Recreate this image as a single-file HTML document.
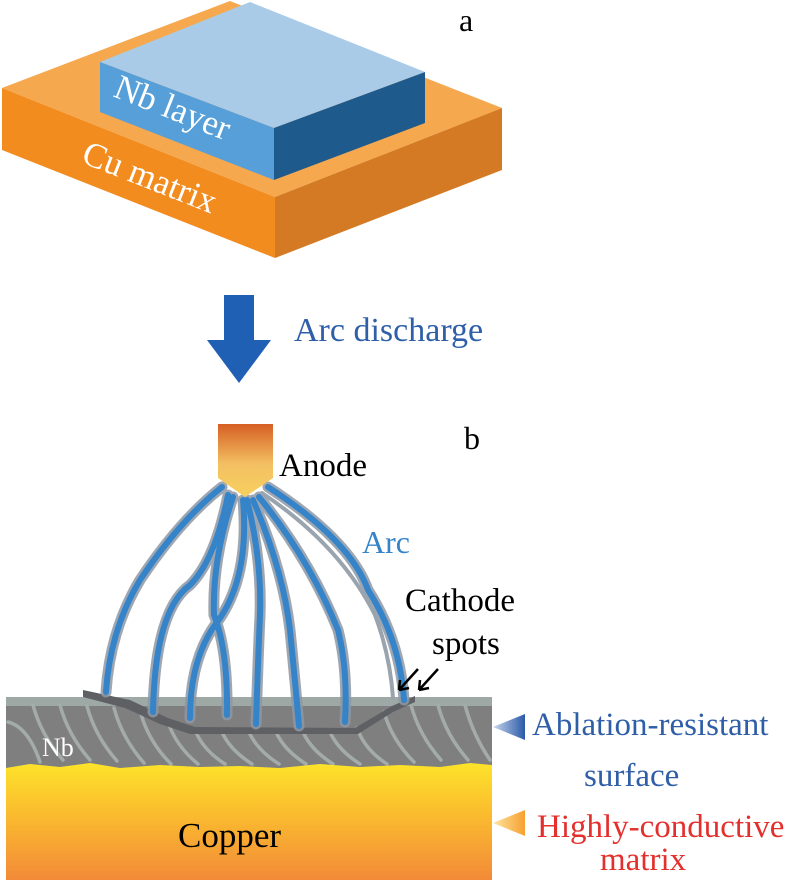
<!DOCTYPE html>
<html><head><meta charset="utf-8"><style>
html,body{margin:0;padding:0;background:#fff;}
svg{display:block;}
text{font-family:"Liberation Serif","DejaVu Serif",serif;}
</style></head><body>
<svg width="796" height="884" viewBox="0 0 796 884" xmlns="http://www.w3.org/2000/svg" font-family="Liberation Serif, serif">
<defs>
<linearGradient id="an" x1="0" y1="0" x2="0" y2="1">
<stop offset="0" stop-color="#d65f24"/><stop offset="0.55" stop-color="#f3c062"/><stop offset="1" stop-color="#f7d060"/></linearGradient>
<linearGradient id="cu" x1="0" y1="0" x2="0" y2="1">
<stop offset="0" stop-color="#fde32a"/><stop offset="0.4" stop-color="#fbbf2e"/><stop offset="1" stop-color="#f28a38"/></linearGradient>
<linearGradient id="tb" x1="1" y1="0" x2="0" y2="0">
<stop offset="0" stop-color="#2a5aa8"/><stop offset="1" stop-color="#c8d6ec"/></linearGradient>
<linearGradient id="to" x1="1" y1="0" x2="0" y2="0">
<stop offset="0" stop-color="#f7a030"/><stop offset="1" stop-color="#fde5a0"/></linearGradient>
</defs>
<polygon points="2,88 230,1 502,108 275,197" fill="#f6a84f"/>
<polygon points="2,88 275,197 275,258 2,150" fill="#f28c1f"/>
<polygon points="275,197 502,108 502,170 275,258" fill="#d47a24"/>
<polygon points="100,62 250,2 425,72 274,128" fill="#a9cbe8"/>
<polygon points="100,62 274,128 274,180 100,112" fill="#569fd8"/>
<polygon points="274,128 425,72 425,123 274,180" fill="#1f5a8c"/>
<text x="0" y="0" transform="translate(112,96) rotate(21.5)" font-size="35" fill="#fff">Nb layer</text>
<text x="0" y="0" transform="translate(80,162) rotate(21.5)" font-size="35" fill="#fff">Cu matrix</text>
<text x="459" y="31" font-size="32" fill="#000">a</text>
<polygon points="224,295 254,295 254,340 271,340 239,383 207,340 224,340" fill="#1f5fb4"/>
<text x="294" y="341" font-size="34" fill="#2e5fa8">Arc discharge</text>
<text x="464" y="449" font-size="32" fill="#000">b</text>
<!-- surface -->
<rect x="6" y="697" width="486" height="80" fill="#7f7f80"/>
<rect x="6" y="697" width="486" height="9" fill="#9ea8a4"/>
<g stroke="#a3aca8" stroke-width="3.5" fill="none" stroke-linecap="round">
<path d="M8,722 q20,5 32,40"/><path d="M33,705 q8,30 30,55"/><path d="M60,705 q8,30 30,55"/><path d="M87,706 q8,30 30,55"/><path d="M114,708 q8,30 30,55"/><path d="M141,714 q8,28 30,50"/><path d="M168,722 q8,24 30,42"/><path d="M195,730 q8,20 30,34"/><path d="M222,732 q8,18 30,32"/><path d="M249,732 q8,18 30,32"/><path d="M276,732 q8,18 30,32"/><path d="M303,732 q8,18 30,32"/><path d="M330,732 q8,18 30,32"/><path d="M357,728 q8,22 30,36"/><path d="M384,712 q8,28 30,50"/><path d="M411,705 q8,30 30,55"/><path d="M438,705 q8,30 30,55"/><path d="M465,705 q8,30 25,55"/>
</g>
<path d="M6,768 L30,764 L60,767 L90,763 L120,768 L160,765 L200,767 L240,766 L280,768 L320,764 L360,767 L400,765 L440,767 L470,763 L492,765 L492,880 L6,880 Z" fill="url(#cu)"/>
<path d="M83,690 L130,700 L168,718 L195,727 L355,728 L392,706 L415,696 L415,702 L393,712 L358,734 L190,734 L160,724 L125,708 L83,697 Z" fill="#5f6064"/>
<g fill="none" stroke-linecap="round" stroke-linejoin="round">
<g stroke="#8e98a4" stroke-width="11" opacity="0.85">
<path d="M222,487 Q180,520 140,580 Q110,630 106,692"/>
<path d="M228,495 Q215,560 190,585 Q155,610 153,712"/>
<path d="M233,497 Q212,560 214,615 Q228,650 227,715"/>
<path d="M243,500 Q250,580 215,625 Q190,660 190,718"/>
<path d="M247,500 Q262,560 260,615 Q258,660 256,724"/>
<path d="M253,500 Q283,570 290,630 Q295,680 299,726"/>
<path d="M259,497 Q310,560 338,630 Q348,670 345,722"/>
<path d="M268,487 Q350,540 368,590 Q400,640 404,700"/>
</g>
<path d="M262,493 Q340,545 375,615 Q390,655 393,698" stroke="#9aa4ae" stroke-width="4"/>
<g stroke="#3584c9" stroke-width="6">
<path d="M222,487 Q180,520 140,580 Q110,630 106,692"/>
<path d="M228,495 Q215,560 190,585 Q155,610 153,712"/>
<path d="M233,497 Q212,560 214,615 Q228,650 227,715"/>
<path d="M243,500 Q250,580 215,625 Q190,660 190,718"/>
<path d="M247,500 Q262,560 260,615 Q258,660 256,724"/>
<path d="M253,500 Q283,570 290,630 Q295,680 299,726"/>
<path d="M259,497 Q310,560 338,630 Q348,670 345,722"/>
<path d="M268,487 Q350,540 368,590 Q400,640 404,700"/>
</g>
</g>
<polygon points="218,424 273,424 273,478 245,497 218,478" fill="url(#an)"/>
<text x="279" y="476" font-size="33" fill="#000">Anode</text>
<text x="362" y="553" font-size="32" fill="#3584c9">Arc</text>
<text x="405" y="611" font-size="33" fill="#000">Cathode</text>
<text x="432" y="654" font-size="33" fill="#000">spots</text>
<g stroke="#000" stroke-width="2.5" fill="none">
<path d="M418,669 L399,690 M399,690 l1,-10 M399,690 l10,-2"/>
<path d="M438,669 L419,690 M419,690 l1,-10 M419,690 l10,-2"/>
</g>
<text x="42" y="756" font-size="26" fill="#fff">Nb</text>
<text x="178" y="847" font-size="35" fill="#000">Copper</text>
<polygon points="525,714 525,740 493,727" fill="url(#tb)"/>
<text x="532" y="735" font-size="33" fill="#2f5ea8">Ablation-resistant</text>
<text x="584" y="786" font-size="33" fill="#2f5ea8">surface</text>
<polygon points="525,810 525,836 493,823" fill="url(#to)"/>
<text x="537" y="837" font-size="33" fill="#e3302c">Highly-conductive</text>
<text x="600" y="870" font-size="33" fill="#e3302c">matrix</text>
</svg>
</body></html>
